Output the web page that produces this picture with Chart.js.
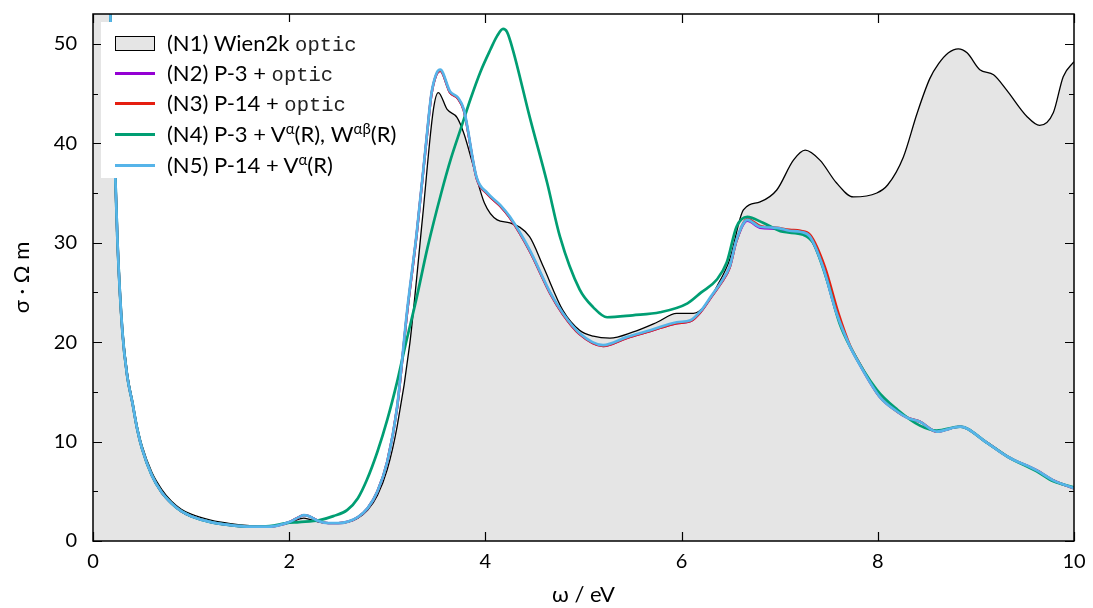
<!DOCTYPE html>
<html>
<head>
<meta charset="utf-8">
<script src="https://cdn.jsdelivr.net/npm/chart.js@4/dist/chart.umd.min.js"></script>
<style>
  body { margin: 0; background: #fff; }
  #wrap { position: relative; width: 1093px; height: 608px; }
  #legend {
    position: absolute; left: 101px; top: 22px; width: 204px; height: 156px;
    background: #fff; font-family: Lato, sans-serif; font-size: 22px; color: #000;
  }
  #legend .row { position: absolute; left: 0; height: 30px; line-height: 30px; white-space: nowrap; }
  #legend .sw { position: absolute; left: 14px; width: 40px; top: 14px; height: 3px; }
  #legend .sw.box { top: 8px; height: 13px; width: 38px; background: #e5e5e5; border: 1px solid #000; }
  #legend .txt { position: absolute; left: 66px; }
  #legend .mono { font-family: "Liberation Mono", monospace; font-size: 20.5px; color: #222; }
  #legend sup { font-size: 15px; line-height: 0; vertical-align: 8px; }
</style>
</head>
<body>
<div id="wrap">
  <canvas id="graph" width="1093" height="608"></canvas>
  <div id="legend">
    <div class="row" style="top:6px"><span class="sw box"></span><span class="txt">(N1) Wien2k <span class="mono">optic</span></span></div>
    <div class="row" style="top:36px"><span class="sw" style="background:#9400d3"></span><span class="txt">(N2) P-3 + <span class="mono">optic</span></span></div>
    <div class="row" style="top:66px"><span class="sw" style="background:#e51e10"></span><span class="txt">(N3) P-14 + <span class="mono">optic</span></span></div>
    <div class="row" style="top:97px"><span class="sw" style="background:#009e73"></span><span class="txt">(N4) P-3 + V<sup>α</sup>(R), W<sup>αβ</sup>(R)</span></div>
    <div class="row" style="top:128px"><span class="sw" style="background:#56b4e9"></span><span class="txt">(N5) P-14 + V<sup>α</sup>(R)</span></div>
  </div>
</div>
<script>
// axis ticks
var xTicks = [0, 2, 4, 6, 8, 10];
var yTicks = [0, 10, 20, 30, 40, 50];
var yMinor = [5, 15, 25, 35, 45];

// (N1) Wien2k optic
var n1X = [0, 0.1, 0.15, 0.18, 0.2, 0.22, 0.25, 0.3, 0.35, 0.4, 0.45, 0.5, 0.6, 0.7, 0.8, 0.9, 1.0, 1.2, 1.4, 1.6, 1.8, 1.9, 2.0, 2.1, 2.15, 2.2, 2.3, 2.4, 2.5, 2.6, 2.7, 2.8, 2.9, 3.0, 3.1, 3.23, 3.36, 3.47, 3.52, 3.61, 3.71, 3.78, 3.88, 3.99, 4.12, 4.25, 4.45, 4.59, 4.79, 4.96, 5.1, 5.27, 5.5, 5.75, 5.95, 6.12, 6.25, 6.36, 6.49, 6.63, 6.8, 6.97, 7.14, 7.26, 7.41, 7.58, 7.75, 7.99, 8.1, 8.26, 8.4, 8.53, 8.62, 8.72, 8.82, 8.91, 9.04, 9.18, 9.31, 9.52, 9.65, 9.79, 9.89, 10];
var n1Y = [300, 120, 62, 52, 45, 39, 30, 21.5, 17, 14.2, 11.6, 9.6, 6.9, 5.2, 4.0, 3.2, 2.7, 2.1, 1.75, 1.55, 1.5, 1.6, 1.85, 2.2, 2.3, 2.2, 1.9, 1.8, 1.8, 1.9, 2.3, 3.1, 4.6, 7.2, 11.5, 19.9, 32.6, 43.4, 45.1, 43.4, 42.6, 41.0, 37.6, 34.0, 32.3, 32.0, 30.6, 27.6, 23.2, 21.2, 20.6, 20.4, 21.0, 22.0, 22.9, 22.9, 23.8, 25.6, 28.3, 33.3, 34.1, 35.3, 38.3, 39.3, 38.3, 36.0, 34.6, 35.0, 35.8, 38.6, 43.0, 46.5, 48.0, 49.1, 49.5, 49.1, 47.4, 46.9, 45.4, 42.7, 41.8, 43.1, 46.7, 48.2];

// (N2) P-3 + optic
var n2X = [0, 0.1, 0.15, 0.18, 0.2, 0.22, 0.25, 0.3, 0.35, 0.4, 0.45, 0.5, 0.6, 0.7, 0.8, 0.9, 1.0, 1.2, 1.4, 1.6, 1.8, 1.9, 2.0, 2.1, 2.15, 2.2, 2.3, 2.4, 2.5, 2.6, 2.7, 2.8, 2.9, 3.0, 3.1, 3.2, 3.3, 3.4, 3.45, 3.5, 3.54, 3.64, 3.72, 3.78, 3.91, 4.02, 4.15, 4.25, 4.45, 4.66, 4.79, 4.96, 5.2, 5.44, 5.68, 5.95, 6.09, 6.2, 6.3, 6.4, 6.49, 6.56, 6.67, 6.8, 6.97, 7.1, 7.21, 7.31, 7.44, 7.58, 7.72, 7.79, 8.02, 8.2, 8.3, 8.43, 8.6, 8.84, 9.11, 9.32, 9.62, 9.79, 10];
var n2Y = [300, 120, 62, 52, 45, 39, 30, 21, 16.5, 14.0, 11.3, 9.3, 6.6, 4.9, 3.8, 3.0, 2.5, 1.9, 1.6, 1.45, 1.45, 1.6, 1.9, 2.4, 2.6, 2.5, 2.0, 1.8, 1.8, 1.95, 2.4, 3.3, 5.0, 8.0, 13.4, 22.8, 30.9, 40.4, 44.9, 46.9, 47.3, 45.1, 44.5, 43.3, 36.5, 34.9, 33.7, 32.5, 29.2, 24.9, 22.8, 20.8, 19.6, 20.4, 21.1, 21.9, 22.1, 23.1, 24.5, 25.9, 27.5, 30.2, 32.2, 31.5, 31.4, 31.1, 31.0, 30.5, 27.6, 22.9, 19.5, 18.2, 14.5, 13.0, 12.4, 12.0, 11.0, 11.5, 9.9, 8.5, 7.1, 6.1, 5.3];

// (N3) P-14 + optic
var n3X = [0, 0.1, 0.15, 0.18, 0.2, 0.22, 0.25, 0.3, 0.35, 0.4, 0.45, 0.5, 0.6, 0.7, 0.8, 0.9, 1.0, 1.2, 1.4, 1.6, 1.8, 1.9, 2.0, 2.1, 2.15, 2.2, 2.3, 2.4, 2.5, 2.6, 2.7, 2.8, 2.9, 3.0, 3.1, 3.2, 3.3, 3.4, 3.45, 3.5, 3.54, 3.64, 3.72, 3.78, 3.91, 4.02, 4.15, 4.25, 4.45, 4.66, 4.79, 4.96, 5.2, 5.44, 5.68, 5.95, 6.09, 6.2, 6.3, 6.4, 6.49, 6.56, 6.67, 6.8, 6.97, 7.1, 7.21, 7.31, 7.46, 7.6, 7.72, 7.79, 8.02, 8.2, 8.3, 8.43, 8.6, 8.84, 9.11, 9.32, 9.62, 9.79, 10];
var n3Y = [300, 120, 62, 52, 45, 39, 30, 21, 16.5, 14.0, 11.3, 9.3, 6.6, 4.9, 3.8, 3.0, 2.5, 1.9, 1.6, 1.45, 1.45, 1.6, 1.9, 2.4, 2.6, 2.5, 2.0, 1.8, 1.8, 1.95, 2.4, 3.3, 5.0, 8.0, 13.4, 22.8, 30.9, 40.4, 44.9, 46.9, 47.3, 45.1, 44.5, 43.3, 36.5, 34.9, 33.7, 32.5, 29.2, 24.9, 22.8, 20.8, 19.6, 20.4, 21.1, 21.9, 22.1, 23.1, 24.5, 25.9, 27.5, 30.2, 32.4, 31.7, 31.5, 31.3, 31.2, 30.8, 27.6, 22.9, 19.6, 18.3, 14.5, 13.0, 12.4, 12.0, 11.0, 11.5, 9.9, 8.5, 7.1, 6.1, 5.3];

// (N4) P-3 + V(R), W(R)
var n4X = [0, 0.1, 0.15, 0.18, 0.2, 0.22, 0.25, 0.3, 0.35, 0.4, 0.45, 0.5, 0.6, 0.7, 0.8, 0.9, 1.0, 1.2, 1.4, 1.6, 1.8, 1.97, 2.1, 2.31, 2.45, 2.59, 2.7, 2.79, 2.9, 3.0, 3.1, 3.18, 3.3, 3.41, 3.55, 3.65, 3.75, 3.85, 3.95, 4.05, 4.12, 4.18, 4.22, 4.28, 4.45, 4.63, 4.76, 4.96, 5.1, 5.24, 5.5, 5.78, 6.06, 6.2, 6.36, 6.46, 6.56, 6.67, 6.83, 7.03, 7.24, 7.34, 7.48, 7.61, 7.72, 7.99, 8.2, 8.43, 8.6, 8.84, 9.11, 9.32, 9.62, 9.79, 10];
var n4Y = [300, 120, 62, 52, 45, 39, 30, 21, 16.5, 14.0, 11.3, 9.3, 6.6, 4.9, 3.8, 3.0, 2.5, 1.9, 1.6, 1.45, 1.5, 1.8, 1.9, 2.1, 2.5, 3.1, 4.3, 6.1, 9.0, 12.2, 16.0, 19.5, 24.5, 29.5, 35.0, 38.5, 41.5, 44.5, 47.2, 49.4, 50.8, 51.5, 51.2, 49.4, 42.7, 36.0, 30.6, 25.3, 23.5, 22.5, 22.7, 23.0, 23.9, 25.0, 26.3, 28.0, 31.6, 32.6, 32.0, 31.1, 30.8, 30.0, 26.3, 21.9, 19.5, 15.2, 13.2, 11.6, 11.1, 11.5, 9.9, 8.5, 7.0, 6.0, 5.4];

// (N5) P-14 + V(R)
var n5X = [0, 0.1, 0.15, 0.18, 0.2, 0.22, 0.25, 0.3, 0.35, 0.4, 0.45, 0.5, 0.6, 0.7, 0.8, 0.9, 1.0, 1.2, 1.4, 1.6, 1.8, 1.9, 2.0, 2.1, 2.15, 2.2, 2.3, 2.4, 2.5, 2.6, 2.7, 2.8, 2.9, 3.0, 3.1, 3.2, 3.3, 3.4, 3.45, 3.5, 3.54, 3.64, 3.72, 3.78, 3.91, 4.02, 4.15, 4.25, 4.45, 4.66, 4.79, 4.96, 5.2, 5.44, 5.68, 5.95, 6.09, 6.2, 6.3, 6.4, 6.49, 6.56, 6.67, 6.8, 6.97, 7.1, 7.21, 7.31, 7.44, 7.58, 7.72, 7.79, 8.02, 8.2, 8.3, 8.43, 8.6, 8.84, 9.11, 9.32, 9.62, 9.79, 10];
var n5Y = [300, 120, 62, 52, 45, 39, 30, 21, 16.5, 14.0, 11.3, 9.3, 6.6, 4.9, 3.8, 3.0, 2.5, 1.9, 1.6, 1.45, 1.45, 1.6, 1.9, 2.4, 2.6, 2.5, 2.0, 1.8, 1.8, 1.95, 2.4, 3.3, 5.0, 8.0, 13.5, 23, 31, 40.5, 45, 47, 47.4, 45.2, 44.6, 43.4, 36.6, 35.0, 33.8, 32.6, 29.3, 25.0, 22.9, 20.9, 19.7, 20.5, 21.2, 22.0, 22.2, 23.2, 24.6, 26.0, 27.6, 30.3, 32.3, 31.6, 31.5, 31.2, 31.1, 30.6, 27.6, 22.9, 19.5, 18.2, 14.5, 13.0, 12.4, 12.0, 11.0, 11.5, 9.9, 8.5, 7.1, 6.1, 5.3];

function pts(xs, ys) {
    return xs.map(function(v, i) { return {x: v, y: ys[i]}; });
}

function line(label, xs, ys, color, width, order) {
    return {
        label: label,
        data: pts(xs, ys),
        borderColor: color,
        borderWidth: width,
        pointRadius: 0,
        fill: false,
        cubicInterpolationMode: 'monotone',
        order: order
    };
}

var n1 = line('(N1) Wien2k optic', n1X, n1Y, '#000', 1.3, 5);
n1.fill = 'origin';
n1.backgroundColor = '#e5e5e5';

//draws inward ticks on all four sides plus the frame
var frameTicks = {
    id: 'frameTicks',
    afterDraw: function(chart) {
        var ctx = chart.ctx, a = chart.chartArea;
        var x = chart.scales.x, y = chart.scales.y;
        ctx.save();
        ctx.strokeStyle = '#000';
        ctx.lineWidth = 1.2;
        ctx.beginPath();
        xTicks.forEach(function(v) {
            var p = Math.round(x.getPixelForValue(v)) + 0.5;
            ctx.moveTo(p, a.bottom); ctx.lineTo(p, a.bottom - 9);
            ctx.moveTo(p, a.top); ctx.lineTo(p, a.top + 9);
        });
        yTicks.concat(yMinor).forEach(function(v) {
            var p = Math.round(y.getPixelForValue(v)) + 0.5;
            var len = yMinor.indexOf(v) >= 0 ? 5 : 9;
            ctx.moveTo(a.left, p); ctx.lineTo(a.left + len, p);
            ctx.moveTo(a.right, p); ctx.lineTo(a.right - len, p);
        });
        ctx.stroke();
        ctx.lineWidth = 1.5;
        ctx.strokeRect(a.left, a.top, a.right - a.left, a.bottom - a.top);
        ctx.restore();
    }
};

var tickFont = {family: 'Lato', size: 20};
var titleFont = {family: 'Lato', size: 22};

new Chart(document.getElementById('graph').getContext('2d'), {
    type: 'line',
    data: {
        datasets: [
            n1,
            line('(N2) P-3 + optic', n2X, n2Y, '#9400d3', 2.4, 4),
            line('(N3) P-14 + optic', n3X, n3Y, '#e51e10', 2.4, 3),
            line('(N4) P-3 + V(R), W(R)', n4X, n4Y, '#009e73', 2.7, 2),
            line('(N5) P-14 + V(R)', n5X, n5Y, '#56b4e9', 2.7, 1)
        ]
    },
    options: {
        responsive: false,
        animation: false,
        layout: {padding: {top: 14, right: 19, left: 0, bottom: 0}},
        plugins: {legend: {display: false}, tooltip: {enabled: false}},
        scales: {
            x: {
                type: 'linear', min: 0, max: 10,
                afterBuildTicks: function(s) { s.ticks = xTicks.map(function(v) { return {value: v}; }); },
                ticks: {color: '#000', font: tickFont, padding: 9, maxRotation: 0},
                grid: {display: false, drawTicks: false},
                border: {display: false},
                title: {display: true, text: 'ω / eV', color: '#000', font: titleFont, padding: {top: 0, bottom: 0}},
                afterFit: function(s) { s.height = 67; s.paddingLeft = 0; s.paddingRight = 0; }
            },
            y: {
                type: 'linear', min: 0, max: 53,
                afterBuildTicks: function(s) { s.ticks = yTicks.map(function(v) { return {value: v}; }); },
                ticks: {color: '#000', font: tickFont, padding: 16},
                grid: {display: false, drawTicks: false},
                border: {display: false},
                title: {display: true, text: 'σ · Ω m', color: '#000', font: titleFont, padding: {top: 9, bottom: 0}},
                afterFit: function(s) { s.width = 93; s.paddingTop = 0; s.paddingBottom = 0; }
            }
        }
    },
    plugins: [frameTicks]
});
</script>
</body>
</html>
